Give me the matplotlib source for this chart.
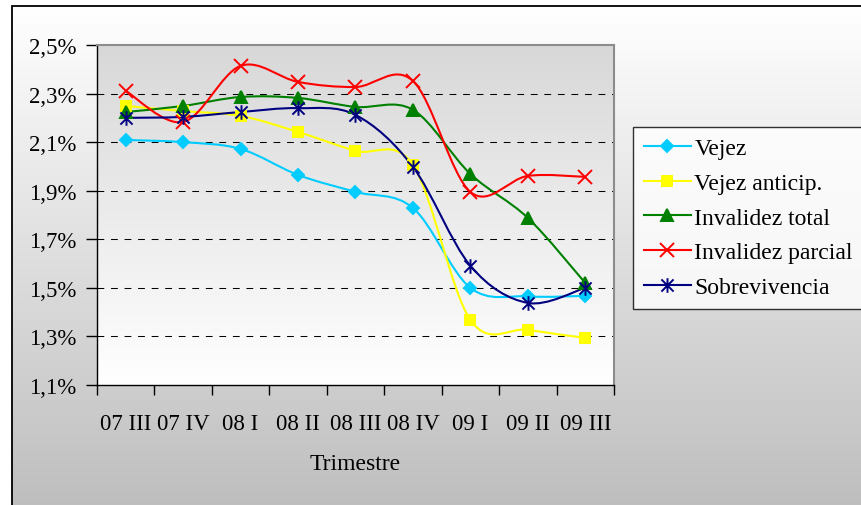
import numpy as np
import matplotlib
matplotlib.use("Agg")
import matplotlib.pyplot as plt
from matplotlib.path import Path
from matplotlib.patches import PathPatch, Rectangle
from matplotlib.lines import Line2D
from matplotlib.colors import LinearSegmentedColormap

# data (percent)
trimestres = ["07 III", "07 IV", "08 I", "08 II", "08 III", "08 IV", "09 I", "09 II", "09 III"]
vejez = [2.109, 2.100, 2.072, 1.965, 1.895, 1.829, 1.500, 1.465, 1.467]
vejez_anticip = [2.249, 2.228, 2.208, 2.142, 2.064, 2.006, 1.368, 1.327, 1.294]
invalidez_total = [2.224, 2.249, 2.286, 2.282, 2.245, 2.233, 1.969, 1.788, 1.520]
invalidez_parcial = [2.311, 2.183, 2.414, 2.348, 2.327, 2.352, 1.895, 1.961, 1.957]
sobrevivencia = [2.200, 2.204, 2.224, 2.240, 2.212, 1.998, 1.591, 1.438, 1.500]
y_ticks = [1.1, 1.3, 1.5, 1.7, 1.9, 2.1, 2.3, 2.5]

FONT = "Liberation Serif"
FS_TICK = 16.5
FS_TEXT = 17

plt.rcParams["font.family"] = [FONT, "DejaVu Serif"]


def smooth_path(xs, ys):
    # Excel-like smoothed line: cubic bezier through each point (catmull-rom tangents)
    pts = np.column_stack([xs, ys]).astype(float)
    n = len(pts)
    verts = [pts[0]]
    codes = [Path.MOVETO]
    for i in range(n - 1):
        p0 = pts[max(i - 1, 0)]
        p1 = pts[i]
        p2 = pts[i + 1]
        p3 = pts[min(i + 2, n - 1)]
        verts += [p1 + (p2 - p0) / 6.0, p2 - (p3 - p1) / 6.0, p2]
        codes += [Path.CURVE4] * 3
    return Path(verts, codes)


# asterisk marker: X with a vertical bar
star = Path([(-1, -1), (1, 1), (-1, 1), (1, -1), (0, -1.2), (0, 1.2)],
            [Path.MOVETO, Path.LINETO, Path.MOVETO, Path.LINETO, Path.MOVETO, Path.LINETO])

series = [
    ("Vejez", vejez, "#00ccff", "D", 5.8),
    ("Vejez anticip.", vejez_anticip, "#ffff00", "s", 7.5),
    ("Invalidez total", invalidez_total, "#008000", "^", 8.5),
    ("Invalidez parcial", invalidez_parcial, "#ff0000", "x", 10.5),
    ("Sobrevivencia", sobrevivencia, "#000080", star, 10.5),
]

W, H = 862, 506
fig = plt.figure(figsize=(W / 100, H / 100), dpi=100)

# chart area background with gradient and border
bg = fig.add_axes([0, 0, 1, 1], zorder=-5)
bg.axis("off")
grad = np.linspace(0, 1, 256).reshape(-1, 1)
bg.imshow(grad, extent=[12, W + 10, -10, H - 7], origin="lower", aspect="auto",
          cmap=LinearSegmentedColormap.from_list("ca", ["#bdbdbd", "#ffffff"]))
bg.add_patch(Rectangle((12, -10), W + 10, H - 7 + 10, fill=False, ec="black", lw=1.3))
bg.set_xlim(0, W)
bg.set_ylim(0, H)

ax = fig.add_axes([97 / W, 1 - 386 / H, (614 - 97) / W, (386 - 46) / H])
x = np.arange(len(trimestres))
ax.imshow(grad, extent=[-0.5, len(trimestres) - 0.5, y_ticks[0], y_ticks[-1]], origin="lower",
          aspect="auto", cmap=LinearSegmentedColormap.from_list("pa", ["#ffffff", "#d8d8d8"]),
          zorder=0)

for yv in y_ticks[1:-1]:
    ax.axhline(yv, color="black", lw=0.75, dashes=(6.5, 6.5), zorder=1)

handles = []
for name, vals, col, mk, ms in series:
    ax.add_patch(PathPatch(smooth_path(x, vals), fill=False, ec=col, lw=1.5, zorder=3))
    ax.plot(x, vals, ls="none", marker=mk, ms=ms, mfc=col, mec=col, mew=1.4, zorder=4)
    handles.append(Line2D([], [], color=col, lw=1.5, marker=mk, ms=ms, mfc=col, mec=col,
                          mew=1.4, label=name))

ax.set_xlim(-0.5, len(trimestres) - 0.5)
ax.set_ylim(y_ticks[0], y_ticks[-1])

ax.set_xticks(x)
ax.set_xticklabels(trimestres, fontsize=FS_TICK)
ax.set_xticks(np.arange(len(trimestres) + 1) - 0.5, minor=True)
ax.tick_params(axis="x", which="major", length=0, pad=20)
ax.tick_params(axis="x", which="minor", length=7, width=1, direction="out")

ax.set_yticks(y_ticks)
ax.set_yticklabels([f"{v:.1f}%".replace(".", ",") for v in y_ticks], fontsize=FS_TICK)
ax.tick_params(axis="y", length=8, width=1, direction="out", pad=7)

ax.set_xlabel("Trimestre", fontsize=FS_TEXT, labelpad=14)

for s in ("top", "right"):
    ax.spines[s].set_color("#8c8c8c")
    ax.spines[s].set_linewidth(1.5)
for s in ("left", "bottom"):
    ax.spines[s].set_color("black")
    ax.spines[s].set_linewidth(1)

leg = fig.legend(handles=handles, loc="upper left", bbox_to_anchor=(633 / W, 1 - 128 / H),
                 fontsize=FS_TEXT, frameon=True, fancybox=False, borderaxespad=0, borderpad=0.45,
                 labelspacing=0.56, handlelength=2.0, handletextpad=0.15)
leg.get_frame().set_edgecolor("black")
leg.get_frame().set_linewidth(1)
leg.get_frame().set_facecolor("white")

fig.savefig("out.png", dpi=100)
